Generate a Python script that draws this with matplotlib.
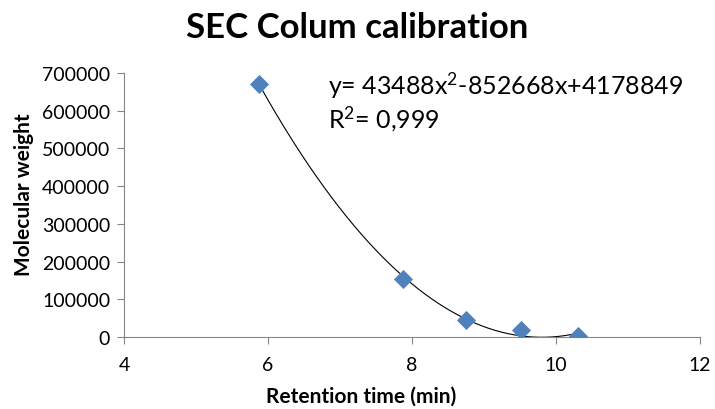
import numpy as np
import matplotlib.pyplot as plt

plt.rcParams['font.family'] = ['Lato', 'DejaVu Sans']
plt.rcParams['mathtext.fontset'] = 'custom'
plt.rcParams['mathtext.rm'] = 'Lato'
plt.rcParams['mathtext.it'] = 'Lato'

retention = [5.875, 7.875, 8.75, 9.52, 10.31]
mol_weight = [670500, 153000, 45500, 19000, 1800]

# trendline coefficients shown on the chart
a, b, c = 43488, -852668, 4178849

fig = plt.figure(figsize=(7.15, 4.10), dpi=100)
ax = fig.add_axes([124 / 715, 1 - 338 / 410, 576 / 715, 264 / 410])

xs = np.linspace(min(retention), max(retention), 300)
ax.plot(xs, a * xs**2 + b * xs + c, color='black', lw=0.8, zorder=2)
ax.scatter(retention, mol_weight, marker='D', s=95, color='#4F81BD', zorder=3, linewidths=0)

ax.set_xlim(4, 12)
ax.set_ylim(0, 700000)
ax.set_xticks([4, 6, 8, 10, 12])
ax.set_yticks(range(0, 700001, 100000))
ax.set_yticklabels([str(v) for v in range(0, 700001, 100000)])

for s in ['top', 'right']:
    ax.spines[s].set_visible(False)
for s in ['left', 'bottom']:
    ax.spines[s].set_color('#868686')
ax.tick_params(colors='#868686', labelcolor='black', labelsize=14, length=5)
ax.tick_params(axis='x', pad=9)
ax.tick_params(axis='y', pad=5)

ax.set_xlabel('Retention time (min)', fontsize=15, fontweight='bold', labelpad=9)
ax.xaxis.label.set_x((361 - 124) / 576)
ax.set_ylabel('Molecular weight', fontsize=15, fontweight='bold', labelpad=6)
ax.yaxis.label.set_y((338 - 195) / 264)
fig.text(0.5, 1 - 28 / 410, 'SEC Colum calibration', ha='center', va='center',
         fontsize=25, fontweight='bold')

ax.text(328 / 715, 1 - 86 / 410, 'y= 43488x$^{2}$-852668x+4178849', transform=fig.transFigure,
        fontsize=18, va='center', ha='left')
ax.text(328 / 715, 1 - 119 / 410, 'R$^{2}$= 0,999', transform=fig.transFigure,
        fontsize=18, va='center', ha='left')

fig.savefig('out.png', dpi=100)
